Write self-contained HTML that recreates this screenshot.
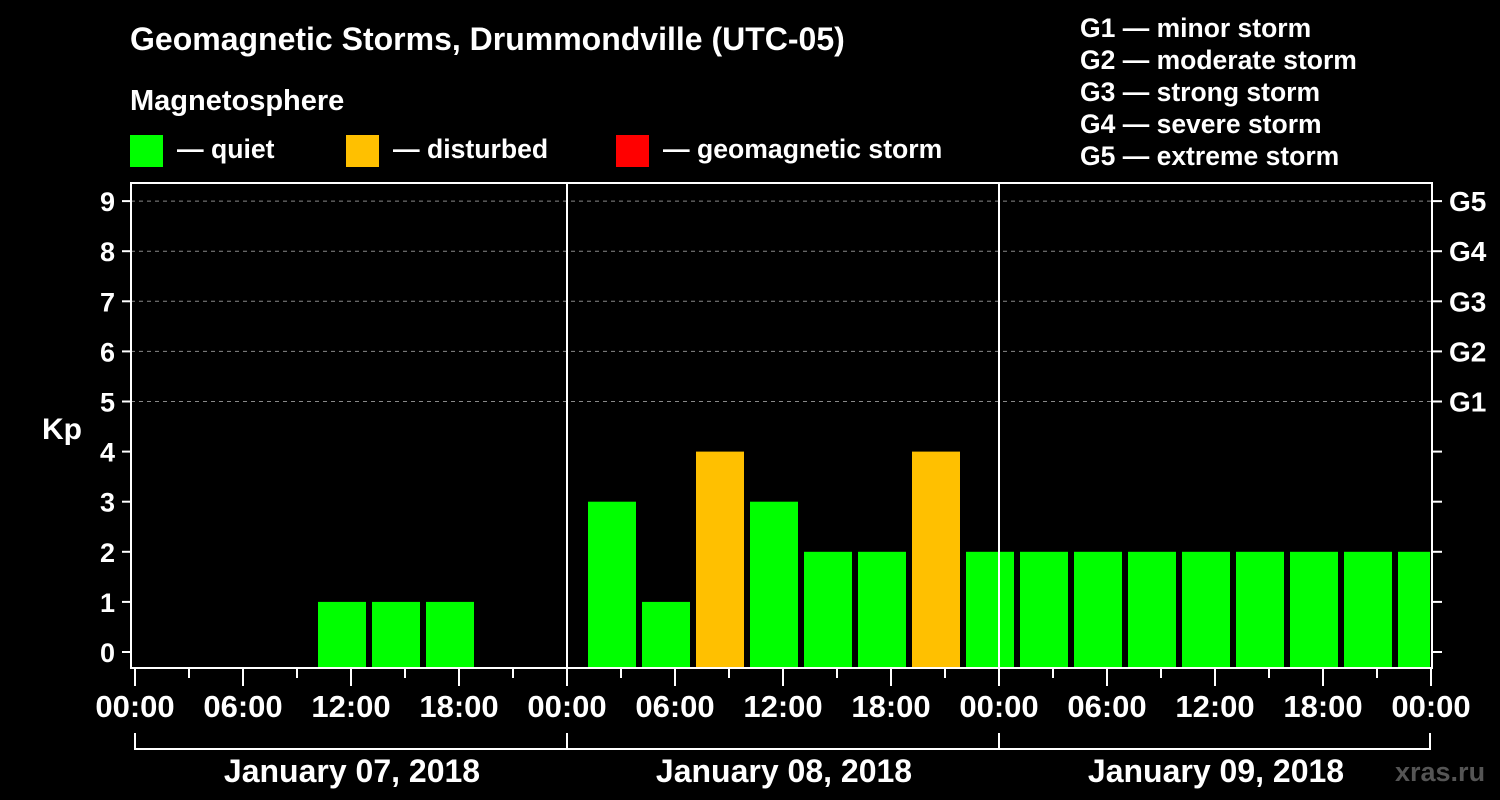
<!DOCTYPE html>
<html><head><meta charset="utf-8"><style>
body{margin:0;background:#000;}
svg{display:block;font-family:"Liberation Sans",Arial,sans-serif;font-weight:bold;}
</style></head><body>
<svg id="chart" width="1500" height="800">
<rect width="1500" height="800" fill="#000"/>
<text x="130" y="50" fill="#fff" font-size="32">Geomagnetic Storms, Drummondville (UTC-05)</text>
<text x="130" y="110" fill="#fff" font-size="29">Magnetosphere</text>
<g><rect x="130" y="135" width="33" height="32" fill="#00ff00"/><text x="177" y="158" fill="#fff" font-size="26.6">— quiet</text></g>
<g><rect x="346" y="135" width="33" height="32" fill="#ffc000"/><text x="393" y="158" fill="#fff" font-size="26.6">— disturbed</text></g>
<g><rect x="616" y="135" width="33" height="32" fill="#ff0000"/><text x="663" y="158" fill="#fff" font-size="26.6">— geomagnetic storm</text></g>
<g fill="#fff" font-size="26.5">
<text x="1080" y="37">G1 — minor storm</text>
<text x="1080" y="69">G2 — moderate storm</text>
<text x="1080" y="101">G3 — strong storm</text>
<text x="1080" y="133">G4 — severe storm</text>
<text x="1080" y="165">G5 — extreme storm</text>
</g>
<text x="42" y="439" fill="#fff" font-size="30">Kp</text>
<text x="1395" y="781" fill="#555" font-size="27">xras.ru</text>
<g id="marks"></g>
</svg>
<script>
const days = ["January 07, 2018","January 08, 2018","January 09, 2018"];
const kpValues = [0,0,0,1,1,1,0,0, 3,1,4,3,2,2,4,2, 2,2,2,2,2,2,2,2];
const yTicks = [0,1,2,3,4,5,6,7,8,9];
const gLabels = ["G1","G2","G3","G4","G5"];
const xLabels = ["00:00","06:00","12:00","18:00"];

const NS="http://www.w3.org/2000/svg";
const g=document.getElementById('marks');
const X0=135, DAYW=432, SLOT=54, PL=131, PR=1432, PT=183, PB=668;
const y=v=>652-v*50.1;
const xs=i=>X0+i*SLOT;
function el(t,a){const e=document.createElementNS(NS,t);for(const k in a)e.setAttribute(k,a[k]);g.appendChild(e);return e;}
gLabels.forEach((l,i)=>{
 const gl=el('line',{x1:PL,x2:PR,y1:y(5+i),y2:y(5+i),stroke:'#888','stroke-dasharray':'4,4','stroke-width':1});
 
 
});
kpValues.forEach((v,i)=>{
 if(v<=0)return;
 const left=xs(i)+21, right=Math.min(left+48,PR-2);
 const r=el('rect',{x:left,y:y(v),width:right-left,height:PB-y(v),fill:v>=5?'#ff0000':(v>=4?'#ffc000':'#00ff00')});
 
 
});
for(let d=1;d<days.length;d++){
 const s=el('line',{x1:X0+d*DAYW,x2:X0+d*DAYW,y1:PT,y2:PB,stroke:'#fff','stroke-width':2});
 
 
}
const f=el('rect',{x:PL,y:PT,width:PR-PL,height:PB-PT,fill:'none',stroke:'#fff','stroke-width':2});


yTicks.forEach(v=>{
 el('line',{x1:122,x2:PL,y1:y(v),y2:y(v),stroke:'#fff','stroke-width':2});
 el('line',{x1:PR,x2:1442,y1:y(v),y2:y(v),stroke:'#fff','stroke-width':2});
 const t=el('text',{x:115,y:y(v)+10,fill:'#fff','font-size':27,'text-anchor':'end'});
 t.textContent=v;
 
 
});
gLabels.forEach((l,i)=>{
 const t=el('text',{x:1449,y:y(5+i)+10,fill:'#fff','font-size':28});
 t.textContent=l;
 
 
});
for(let i=0;i<=days.length*8;i++){
 const x=xs(i), major=i%2===0;
 el('line',{x1:x,x2:x,y1:PB,y2:major?686:678,stroke:'#fff','stroke-width':2});
 if(major){
  const t=el('text',{x:x,y:717,fill:'#fff','font-size':31,'text-anchor':'middle'});
  t.textContent=xLabels[(i/2)%4];
  
  
 }
}
el('line',{x1:X0,x2:X0+days.length*DAYW-1,y1:749,y2:749,stroke:'#fff','stroke-width':2});
for(let d=0;d<=days.length;d++){const x=Math.min(X0+d*DAYW,X0+days.length*DAYW-1);el('line',{x1:x,x2:x,y1:733,y2:750,stroke:'#fff','stroke-width':2});}
days.forEach((d,i)=>{
 const t=el('text',{x:X0+i*DAYW+DAYW/2+1,y:782,fill:'#fff','font-size':32,'text-anchor':'middle'});
 t.textContent=d;
 
 
});
</script>
</body></html>
